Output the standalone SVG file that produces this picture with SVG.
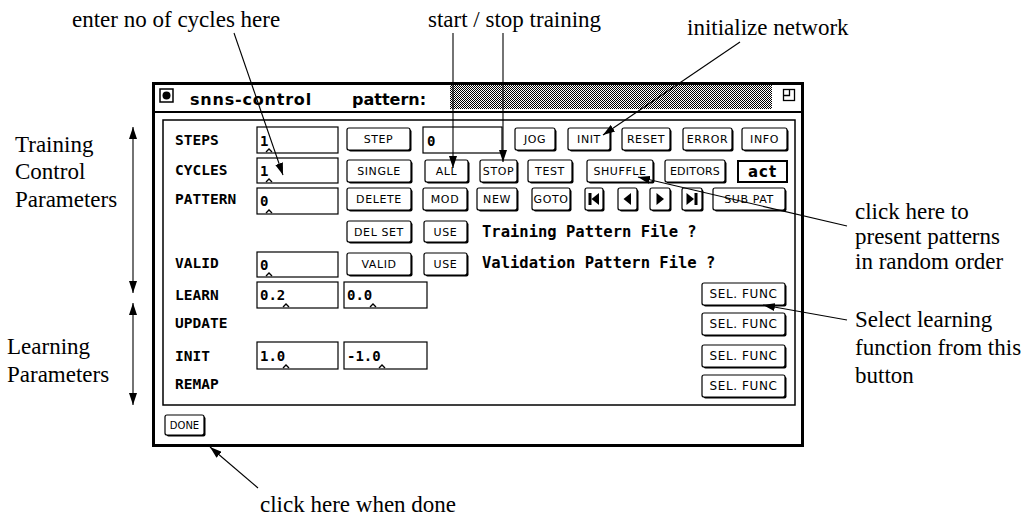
<svg xmlns="http://www.w3.org/2000/svg" width="1030" height="515" viewBox="0 0 1030 515">
<defs>
<marker id="ah" viewBox="0 0 12 8" refX="12" refY="4" markerWidth="12" markerHeight="8" markerUnits="userSpaceOnUse" orient="auto-start-reverse"><path d="M0,0 L12,4 L0,8 z" fill="#000"/></marker>
<pattern id="dots" width="2" height="2" patternUnits="userSpaceOnUse"><rect width="2" height="2" fill="#fff"/><rect width="1" height="1" fill="#000"/><rect x="1" y="1" width="1" height="1" fill="#000"/></pattern>
</defs>
<style>
.ann{font-family:"Liberation Serif","Times New Roman",serif;font-size:23px;fill:#000}
.lbl{font-family:"DejaVu Sans Mono",monospace;font-weight:bold;font-size:14.5px;fill:#000}
.box{fill:#fff;stroke:#000;stroke-width:1.2}
.val{font-family:"DejaVu Sans Mono",monospace;font-weight:bold;font-size:14px;fill:#000}
.car{fill:none;stroke:#000;stroke-width:1.4}
.sh{fill:#000}
.fc{fill:#fff;stroke:#000;stroke-width:1.2}
.bt{font-family:"DejaVu Sans",sans-serif;font-size:11px;letter-spacing:0.6px;text-anchor:middle;fill:#000}
.ft{font-family:"DejaVu Sans Mono",monospace;font-weight:bold;font-size:15.5px;fill:#000}
.conn line{stroke:#000;stroke-width:1.1;fill:none}
</style>
<rect width="1030" height="515" fill="#fff"/>

<!-- window frame -->
<g id="window">
<rect x="153.5" y="83.5" width="649" height="362" fill="#fff" stroke="#000" stroke-width="3"/>
<line x1="153" y1="112" x2="803" y2="112" stroke="#000" stroke-width="2"/>
<rect x="160" y="89" width="13" height="13" fill="#fff" stroke="#000" stroke-width="1.5"/>
<circle cx="166.5" cy="95.5" r="4" fill="#000"/>
<text x="190" y="105" style="font-family:'DejaVu Sans',sans-serif;font-weight:bold;font-size:16px;letter-spacing:0.8px">snns-control</text>
<text x="352" y="105" style="font-family:'DejaVu Sans',sans-serif;font-weight:bold;font-size:16px">pattern:</text>
<rect x="450" y="85" width="322" height="24" fill="url(#dots)"/>
<rect x="783.5" y="89.5" width="11" height="11" fill="#fff" stroke="#000" stroke-width="1.3"/>
<path d="M783.5,95.5 H789.5 V89.5" fill="none" stroke="#000" stroke-width="1.3"/>
<rect x="163" y="120" width="632" height="285" fill="#fff" stroke="#000" stroke-width="1.5"/>
</g>

<!-- row labels -->
<g id="labels">
<text class="lbl" x="175" y="145">STEPS</text>
<text class="lbl" x="175" y="175">CYCLES</text>
<text class="lbl" x="175" y="204">PATTERN</text>
<text class="lbl" x="175" y="268">VALID</text>
<text class="lbl" x="175" y="300">LEARN</text>
<text class="lbl" x="175" y="328">UPDATE</text>
<text class="lbl" x="175" y="361">INIT</text>
<text class="lbl" x="175" y="389">REMAP</text>
</g>

<!-- input fields -->
<g id="in-steps"><rect class="box" x="257" y="127" width="81" height="26"/><text class="val" x="260" y="146">1</text><polyline class="car" points="266,152 269,149 272,152"/></g>
<g id="in-cycles"><rect class="box" x="257" y="158" width="81" height="25"/><text class="val" x="260" y="176">1</text><polyline class="car" points="266,182 269,179 272,182"/></g>
<g id="in-pattern"><rect class="box" x="257" y="188" width="81" height="26"/><text class="val" x="260" y="206">0</text><polyline class="car" points="266,213 269,210 272,213"/></g>
<g id="in-steps2"><rect class="box" x="423" y="127" width="79" height="26"/><text class="val" x="427" y="146">0</text></g>
<g id="in-valid"><rect class="box" x="257" y="252" width="81" height="25"/><text class="val" x="260" y="270">0</text><polyline class="car" points="266,276 269,273 272,276"/></g>
<g id="in-learn1"><rect class="box" x="257" y="282" width="81" height="26"/><text class="val" x="260" y="300">0.2</text><polyline class="car" points="283,307 286,304 289,307"/></g>
<g id="in-learn2"><rect class="box" x="344" y="282" width="83" height="26"/><text class="val" x="347" y="300">0.0</text><polyline class="car" points="370,307 373,304 376,307"/></g>
<g id="in-init1"><rect class="box" x="257" y="342" width="81" height="27"/><text class="val" x="260" y="361">1.0</text><polyline class="car" points="283,368 286,365 289,368"/></g>
<g id="in-init2"><rect class="box" x="344" y="342" width="83" height="27"/><text class="val" x="347" y="361">-1.0</text><polyline class="car" points="379,368 382,365 385,368"/></g>

<!-- buttons row 1 -->
<g id="btn-step"><rect class="sh" x="348.5" y="129.5" width="63" height="22" rx="2"/><rect class="fc" x="347" y="128" width="63" height="22" rx="2"/><text class="bt" x="378.5" y="143">STEP</text></g>
<g id="btn-jog"><rect class="sh" x="516.5" y="129.5" width="40" height="22" rx="2"/><rect class="fc" x="515" y="128" width="40" height="22" rx="2"/><text class="bt" x="535" y="143">JOG</text></g>
<g id="btn-init"><rect class="sh" x="569.5" y="129.5" width="42" height="22" rx="2"/><rect class="fc" x="568" y="128" width="42" height="22" rx="2"/><text class="bt" x="589" y="143">INIT</text></g>
<g id="btn-reset"><rect class="sh" x="623.5" y="129.5" width="48" height="22" rx="2"/><rect class="fc" x="622" y="128" width="48" height="22" rx="2"/><text class="bt" x="646" y="143">RESET</text></g>
<g id="btn-error"><rect class="sh" x="684.5" y="129.5" width="49" height="22" rx="2"/><rect class="fc" x="683" y="128" width="49" height="22" rx="2"/><text class="bt" x="707.5" y="143">ERROR</text></g>
<g id="btn-info"><rect class="sh" x="743.5" y="129.5" width="45" height="22" rx="2"/><rect class="fc" x="742" y="128" width="45" height="22" rx="2"/><text class="bt" x="764.5" y="143">INFO</text></g>

<!-- buttons row 2 -->
<g id="btn-single"><rect class="sh" x="348.5" y="161.5" width="64" height="22" rx="2"/><rect class="fc" x="347" y="160" width="64" height="22" rx="2"/><text class="bt" x="379" y="175">SINGLE</text></g>
<g id="btn-all"><rect class="sh" x="426.5" y="161.5" width="43" height="22" rx="2"/><rect class="fc" x="425" y="160" width="43" height="22" rx="2"/><text class="bt" x="446.5" y="175">ALL</text></g>
<g id="btn-stop"><rect class="sh" x="481.5" y="161.5" width="37" height="22" rx="2"/><rect class="fc" x="480" y="160" width="37" height="22" rx="2"/><text class="bt" x="498.5" y="175">STOP</text></g>
<g id="btn-test"><rect class="sh" x="529.5" y="161.5" width="44" height="22" rx="2"/><rect class="fc" x="528" y="160" width="44" height="22" rx="2"/><text class="bt" x="550" y="175">TEST</text></g>
<g id="btn-shuffle"><rect class="sh" x="588.5" y="161.5" width="66" height="22" rx="2"/><rect class="fc" x="587" y="160" width="66" height="22" rx="2"/><text class="bt" x="620" y="175">SHUFFLE</text></g>
<g id="btn-editors"><rect class="sh" x="666.5" y="161.5" width="60" height="22" rx="2"/><rect class="fc" x="665" y="160" width="60" height="22" rx="2"/><text class="bt" x="695" y="175" style="letter-spacing:0.2px">EDITORS</text></g>
<g id="btn-act"><rect x="738" y="161" width="49" height="21" fill="#fff" stroke="#000" stroke-width="2"/><text x="762.5" y="177" style="font-family:'DejaVu Sans',sans-serif;font-weight:bold;font-size:15px;letter-spacing:1px;text-anchor:middle">act</text></g>

<!-- buttons row 3 -->
<g id="btn-delete"><rect class="sh" x="348.5" y="189.5" width="64" height="22" rx="2"/><rect class="fc" x="347" y="188" width="64" height="22" rx="2"/><text class="bt" x="379" y="203">DELETE</text></g>
<g id="btn-mod"><rect class="sh" x="424.5" y="189.5" width="44" height="22" rx="2"/><rect class="fc" x="423" y="188" width="44" height="22" rx="2"/><text class="bt" x="445" y="203">MOD</text></g>
<g id="btn-new"><rect class="sh" x="478.5" y="189.5" width="40" height="22" rx="2"/><rect class="fc" x="477" y="188" width="40" height="22" rx="2"/><text class="bt" x="497" y="203">NEW</text></g>
<g id="btn-goto"><rect class="sh" x="533.5" y="189.5" width="38" height="22" rx="2"/><rect class="fc" x="532" y="188" width="38" height="22" rx="2"/><text class="bt" x="551" y="203">GOTO</text></g>
<g id="btn-first"><rect class="sh" x="586.5" y="189.5" width="18" height="22" rx="2"/><rect class="fc" x="585" y="188" width="18" height="22" rx="2"/><rect x="588.5" y="193" width="3" height="12" fill="#000"/><path d="M599,193 L599,205 L591.5,199 z" fill="#000"/></g>
<g id="btn-prev"><rect class="sh" x="619.5" y="189.5" width="19" height="22" rx="2"/><rect class="fc" x="618" y="188" width="19" height="22" rx="2"/><path d="M631,193 L631,205 L623.5,199 z" fill="#000"/></g>
<g id="btn-next"><rect class="sh" x="651.5" y="189.5" width="20" height="22" rx="2"/><rect class="fc" x="650" y="188" width="20" height="22" rx="2"/><path d="M656.5,193 L656.5,205 L664,199 z" fill="#000"/></g>
<g id="btn-last"><rect class="sh" x="683.5" y="189.5" width="20" height="22" rx="2"/><rect class="fc" x="682" y="188" width="20" height="22" rx="2"/><path d="M686.5,193 L686.5,205 L694,199 z" fill="#000"/><rect x="694.5" y="193" width="3" height="12" fill="#000"/></g>
<g id="btn-subpat"><rect class="sh" x="714.5" y="189.5" width="72" height="22" rx="2"/><rect class="fc" x="713" y="188" width="72" height="22" rx="2"/><text class="bt" x="749" y="203">SUB PAT</text></g>

<!-- rows 4 and 5 -->
<g id="btn-delset"><rect class="sh" x="348.5" y="222.5" width="64" height="21" rx="2"/><rect class="fc" x="347" y="221" width="64" height="21" rx="2"/><text class="bt" x="379" y="235.5">DEL SET</text></g>
<g id="btn-use1"><rect class="sh" x="425.5" y="222.5" width="43" height="21" rx="2"/><rect class="fc" x="424" y="221" width="43" height="21" rx="2"/><text class="bt" x="445.5" y="235.5">USE</text></g>
<g id="txt-training"><text class="ft" x="482" y="237">Training Pattern File ?</text></g>
<g id="btn-valid"><rect class="sh" x="348.5" y="254.5" width="64" height="22" rx="2"/><rect class="fc" x="347" y="253" width="64" height="22" rx="2"/><text class="bt" x="379" y="268">VALID</text></g>
<g id="btn-use2"><rect class="sh" x="425.5" y="254.5" width="43" height="22" rx="2"/><rect class="fc" x="424" y="253" width="43" height="22" rx="2"/><text class="bt" x="445.5" y="268">USE</text></g>
<g id="txt-validation"><text class="ft" x="482" y="268">Validation Pattern File ?</text></g>

<!-- SEL. FUNC buttons -->
<g id="btn-sel1"><rect class="sh" x="703.5" y="284.5" width="83" height="22" rx="2"/><rect class="fc" x="702" y="283" width="83" height="22" rx="2"/><text class="bt" x="743.5" y="298" style="font-size:12px">SEL. FUNC</text></g>
<g id="btn-sel2"><rect class="sh" x="703.5" y="314.5" width="83" height="22" rx="2"/><rect class="fc" x="702" y="313" width="83" height="22" rx="2"/><text class="bt" x="743.5" y="328" style="font-size:12px">SEL. FUNC</text></g>
<g id="btn-sel3"><rect class="sh" x="703.5" y="346.5" width="83" height="22" rx="2"/><rect class="fc" x="702" y="345" width="83" height="22" rx="2"/><text class="bt" x="743.5" y="360" style="font-size:12px">SEL. FUNC</text></g>
<g id="btn-sel4"><rect class="sh" x="703.5" y="376.5" width="83" height="22" rx="2"/><rect class="fc" x="702" y="375" width="83" height="22" rx="2"/><text class="bt" x="743.5" y="390" style="font-size:12px">SEL. FUNC</text></g>

<g id="btn-done"><rect class="sh" x="166.5" y="416.5" width="39" height="20" rx="2"/><rect class="fc" x="165" y="415" width="39" height="20" rx="2"/><text class="bt" x="184.5" y="429" style="font-size:10px;letter-spacing:0">DONE</text></g>

<!-- annotations -->
<g id="ann-cycles"><text class="ann" x="72" y="27">enter no of cycles here</text></g>
<g id="ann-startstop"><text class="ann" x="428" y="27">start / stop training</text></g>
<g id="ann-init"><text class="ann" x="687" y="35">initialize network</text></g>
<g id="ann-shuffle"><text class="ann" x="855" y="219">click here to</text><text class="ann" x="855" y="244">present patterns</text><text class="ann" x="855" y="269">in random order</text></g>
<g id="ann-selfunc"><text class="ann" x="855" y="327">Select learning</text><text class="ann" x="855" y="355">function from this</text><text class="ann" x="855" y="383">button</text></g>
<g id="ann-done"><text class="ann" x="260" y="512">click here when done</text></g>
<g id="ann-training"><text class="ann" x="15" y="152">Training</text><text class="ann" x="15" y="179">Control</text><text class="ann" x="15" y="207">Parameters</text></g>
<g id="ann-learning"><text class="ann" x="7" y="354">Learning</text><text class="ann" x="7" y="382">Parameters</text></g>

<!-- connectors -->
<g id="connectors" class="conn">
<line x1="234" y1="33" x2="283" y2="175" marker-end="url(#ah)"/>
<line x1="453" y1="33" x2="453" y2="168" marker-end="url(#ah)"/>
<line x1="503" y1="33" x2="503" y2="162" marker-end="url(#ah)"/>
<line x1="740" y1="42" x2="603" y2="135" marker-end="url(#ah)"/>
<line x1="847" y1="226" x2="638" y2="177" marker-end="url(#ah)"/>
<line x1="847" y1="320" x2="763" y2="305" marker-end="url(#ah)"/>
<line x1="258" y1="488" x2="210" y2="447" marker-end="url(#ah)"/>
<line x1="133" y1="127" x2="133" y2="293" marker-start="url(#ah)" marker-end="url(#ah)"/>
<line x1="133" y1="303" x2="133" y2="405" marker-start="url(#ah)" marker-end="url(#ah)"/>
</g>
</svg>
